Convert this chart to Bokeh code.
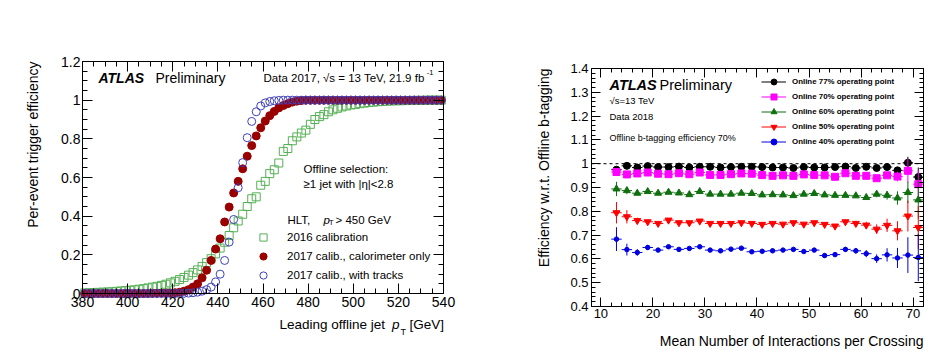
from math import pi
from bokeh.plotting import figure
from bokeh.layouts import row
from bokeh.models import (Range1d, FixedTicker, LinearAxis, CustomJSTickFormatter,
                          Label, Legend, LegendItem)
from bokeh.embed import file_html
from bokeh.resources import INLINE

FONT = "Liberation Sans"

# ---------------- left panel data: per-event trigger efficiency ----------------
pt_bins = list(range(381, 540, 2))          # bin centres [GeV]
eff_2016 = [
    0.003, 0.004, 0.005, 0.006, 0.007, 0.008, 0.009, 0.011, 0.013, 0.015,
    0.017, 0.019, 0.022, 0.025, 0.029, 0.033, 0.037, 0.042, 0.048, 0.055,
    0.063, 0.072, 0.083, 0.095, 0.108, 0.122, 0.140, 0.160, 0.180, 0.205,
    0.235, 0.265, 0.300, 0.340, 0.375, 0.410, 0.450, 0.490, 0.500, 0.560,
    0.580, 0.620, 0.640, 0.675, 0.735, 0.750, 0.790, 0.810, 0.830, 0.845,
    0.875, 0.900, 0.915, 0.925, 0.940, 0.950, 0.958, 0.965, 0.970, 0.975,
    0.978, 0.982, 0.985, 0.988, 0.990, 0.992, 0.993, 0.995, 0.996, 0.997,
    0.997, 0.998, 0.998, 0.999, 0.999, 0.999, 1.000, 1.000, 1.000, 1.000]
eff_2017_calo = [
    0.000, 0.000, 0.000, 0.000, 0.000, 0.000, 0.000, 0.000, 0.000, 0.000,
    0.000, 0.000, 0.000, 0.000, 0.000, 0.001, 0.001, 0.002, 0.002, 0.003,
    0.004, 0.006, 0.012, 0.020, 0.033, 0.050, 0.081, 0.120, 0.171, 0.230,
    0.283, 0.370, 0.447, 0.520, 0.580, 0.645, 0.710, 0.765, 0.815, 0.857,
    0.892, 0.920, 0.942, 0.960, 0.972, 0.982, 0.990, 0.995, 0.998, 1.000,
    1.000, 1.000, 1.000, 1.000, 1.000, 1.000, 1.000, 1.000, 1.000, 1.000,
    1.000, 1.000, 1.000, 1.000, 1.000, 1.000, 1.000, 1.000, 1.000, 1.000,
    1.000, 1.000, 1.000, 1.000, 1.000, 1.000, 1.000, 1.000, 1.000, 1.000]
eff_2017_trk = [
    0.000, 0.000, 0.000, 0.000, 0.000, 0.000, 0.000, 0.000, 0.000, 0.000,
    0.000, 0.000, 0.000, 0.000, 0.000, 0.000, 0.000, 0.000, 0.000, 0.000,
    0.000, 0.000, 0.001, 0.002, 0.004, 0.007, 0.012, 0.020, 0.033, 0.060,
    0.100, 0.171, 0.266, 0.383, 0.547, 0.677, 0.806, 0.890, 0.940, 0.970,
    0.986, 0.993, 0.997, 0.999, 1.000, 1.000, 1.000, 1.000, 1.000, 1.000,
    1.000, 1.000, 1.000, 1.000, 1.000, 1.000, 1.000, 1.000, 1.000, 1.000,
    1.000, 1.000, 1.000, 1.000, 1.000, 1.000, 1.000, 1.000, 1.000, 1.000,
    1.000, 1.000, 1.000, 1.000, 1.000, 1.000, 1.000, 1.000, 1.000, 1.000]
left_labels = ["2016 calibration", "2017 calib., calorimeter only", "2017 calib., with tracks"]
left_xlim = (380, 540)
left_ylim = (0.0, 1.2)
left_xticks = [380, 400, 420, 440, 460, 480, 500, 520, 540]
left_yticks = [0.0, 0.2, 0.4, 0.6, 0.8, 1.0, 1.2]

# ---------------- right panel data: online b-tagging efficiency vs <mu> ----------------
mu_bins = list(range(13, 72, 2))
mu_halfwidth = 1.0
eff77 = [0.975, 0.991, 0.984, 0.990, 0.986, 0.986, 0.988, 0.984, 0.987, 0.987,
         0.984, 0.986, 0.987, 0.987, 0.986, 0.984, 0.984, 0.982, 0.986, 0.984,
         0.984, 0.986, 0.988, 0.982, 0.987, 0.982, 0.986, 0.972, 1.004, 0.944]
eff70 = [0.965, 0.955, 0.959, 0.963, 0.958, 0.956, 0.960, 0.956, 0.963, 0.953,
         0.953, 0.956, 0.959, 0.958, 0.952, 0.949, 0.951, 0.949, 0.955, 0.952,
         0.951, 0.945, 0.960, 0.949, 0.949, 0.939, 0.951, 0.946, 0.970, 0.914]
eff60 = [0.894, 0.887, 0.876, 0.883, 0.876, 0.880, 0.877, 0.870, 0.883, 0.872,
         0.872, 0.872, 0.876, 0.875, 0.869, 0.870, 0.869, 0.866, 0.872, 0.875,
         0.869, 0.867, 0.867, 0.865, 0.858, 0.872, 0.867, 0.856, 0.879, 0.848]
eff50 = [0.794, 0.777, 0.761, 0.756, 0.749, 0.763, 0.752, 0.752, 0.759, 0.749,
         0.749, 0.749, 0.752, 0.749, 0.745, 0.749, 0.746, 0.752, 0.746, 0.752,
         0.745, 0.738, 0.756, 0.749, 0.742, 0.725, 0.741, 0.718, 0.780, 0.732]
eff40 = [0.683, 0.639, 0.627, 0.648, 0.637, 0.651, 0.640, 0.644, 0.651, 0.637,
         0.634, 0.641, 0.645, 0.630, 0.632, 0.634, 0.637, 0.640, 0.631, 0.637,
         0.614, 0.618, 0.640, 0.634, 0.622, 0.601, 0.617, 0.604, 0.616, 0.606]
err77 = [0.010, 0.006, 0.004, 0.003, 0.003, 0.003, 0.003, 0.003, 0.003, 0.003,
         0.003, 0.003, 0.003, 0.003, 0.003, 0.003, 0.003, 0.003, 0.003, 0.003,
         0.003, 0.003, 0.004, 0.004, 0.005, 0.006, 0.008, 0.012, 0.025, 0.040]
err70 = [0.015, 0.008, 0.005, 0.004, 0.004, 0.004, 0.004, 0.004, 0.004, 0.004,
         0.004, 0.004, 0.004, 0.004, 0.004, 0.004, 0.004, 0.004, 0.004, 0.004,
         0.004, 0.005, 0.005, 0.006, 0.007, 0.009, 0.012, 0.020, 0.050, 0.060]
err60 = [0.030, 0.015, 0.008, 0.006, 0.005, 0.005, 0.005, 0.005, 0.005, 0.005,
         0.005, 0.005, 0.005, 0.005, 0.005, 0.005, 0.005, 0.005, 0.005, 0.005,
         0.005, 0.006, 0.006, 0.008, 0.010, 0.013, 0.018, 0.028, 0.045, 0.080]
err50 = [0.045, 0.028, 0.012, 0.008, 0.007, 0.006, 0.006, 0.006, 0.006, 0.006,
         0.006, 0.006, 0.006, 0.006, 0.006, 0.006, 0.006, 0.006, 0.006, 0.006,
         0.007, 0.008, 0.009, 0.011, 0.014, 0.020, 0.028, 0.040, 0.065, 0.090]
err40 = [0.050, 0.025, 0.014, 0.010, 0.008, 0.007, 0.007, 0.007, 0.007, 0.007,
         0.007, 0.007, 0.007, 0.007, 0.007, 0.007, 0.007, 0.007, 0.007, 0.007,
         0.008, 0.009, 0.010, 0.012, 0.015, 0.018, 0.028, 0.042, 0.075, 0.100]
right_labels = ["Online 77% operating point", "Online 70% operating point",
                "Online 60% operating point", "Online 50% operating point",
                "Online 40% operating point"]
right_xlim = (8.2, 72.0)
right_ylim = (0.4, 1.4)
right_xticks = [10, 20, 30, 40, 50, 60, 70]
right_yticks = [0.4, 0.5, 0.6, 0.7, 0.8, 0.9, 1.0, 1.1, 1.2, 1.3, 1.4]
reference_level = 1.0


def canvas_ranges(W, H, fl, fr, ft, fb, xlim, ylim):
    """Extend the data ranges so that the visible box (fl..fr, ft..fb px) maps to xlim/ylim."""
    sx = (xlim[1] - xlim[0]) / (fr - fl)
    sy = (ylim[1] - ylim[0]) / (fb - ft)
    return (Range1d(xlim[0] - fl * sx, xlim[1] + (W - fr) * sx),
            Range1d(ylim[0] - (H - fb) * sy, ylim[1] + ft * sy))


def style_axis(ax, size, standoff, maj, mnr):
    ax.axis_line_color = "black"
    ax.axis_line_width = 1
    ax.major_tick_line_color = "black"
    ax.minor_tick_line_color = "black"
    ax.major_tick_in = maj
    ax.major_tick_out = 0
    ax.minor_tick_in = mnr
    ax.minor_tick_out = 0
    ax.major_label_text_font = FONT
    ax.major_label_text_font_size = size
    ax.major_label_text_color = "black"
    ax.major_label_standoff = standoff


def txt(p, x, y, text, xo, yo, size, style="normal", align="left", angle=0.0):
    p.add_layout(Label(x=x, y=y, x_offset=xo, y_offset=yo, text=text, text_font=FONT,
                       text_font_size=size, text_font_style=style, text_align=align,
                       text_baseline="middle", angle=angle, text_color="black"))


def box_axes(p, xlim, ylim, xt, xm, yt, ym, size, xs, ys, maj, mnr):
    p.grid.visible = False
    p.outline_line_color = None
    p.background_fill_color = "white"
    p.border_fill_color = "white"
    show = CustomJSTickFormatter(code="return String(Math.round(tick*1000)/1000);")
    hide = CustomJSTickFormatter(code="return '';")
    xa = p.xaxis[0]
    ya = p.yaxis[0]
    xa.ticker = FixedTicker(ticks=xt, minor_ticks=xm)
    ya.ticker = FixedTicker(ticks=yt, minor_ticks=ym)
    xa.formatter = show
    ya.formatter = show
    xa.fixed_location = ylim[0]
    ya.fixed_location = xlim[0]
    xa.bounds = xlim
    ya.bounds = ylim
    style_axis(xa, size, xs, maj, mnr)
    style_axis(ya, size, ys, maj, mnr)
    top = LinearAxis(ticker=FixedTicker(ticks=xt, minor_ticks=xm), formatter=hide,
                     fixed_location=ylim[1], bounds=xlim)
    right = LinearAxis(ticker=FixedTicker(ticks=yt, minor_ticks=ym), formatter=hide,
                       fixed_location=xlim[1], bounds=ylim)
    style_axis(top, "8px", 0, maj, mnr)
    style_axis(right, "8px", 0, maj, mnr)
    p.add_layout(top, "above")
    p.add_layout(right, "right")


W1, W2, H = 470, 469, 355

# ======================= left panel =======================
xr1, yr1 = canvas_ranges(W1, H, 82, 443, 61, 293, left_xlim, left_ylim)
p1 = figure(width=W1, height=H, x_range=xr1, y_range=yr1, output_backend="svg",
            toolbar_location=None, min_border=0)
box_axes(p1, left_xlim, left_ylim, left_xticks, list(range(380, 541, 5)),
         left_yticks, [round(0.05 * i, 2) for i in range(25)], "14px", 3, 2, 10, 5)

r16 = p1.scatter(pt_bins, eff_2016, marker="square", size=8, fill_color=None,
                 line_color="#55b055", line_width=1)
rcal = p1.scatter(pt_bins, eff_2017_calo, marker="circle", size=8, fill_color="#990000",
                  line_color="#990000")
rtrk = p1.scatter(pt_bins, eff_2017_trk, marker="circle", size=8, fill_color=None,
                  line_color="#4040bb", line_width=1)

leg1 = Legend(items=[LegendItem(label=left_labels[0], renderers=[r16]),
                     LegendItem(label=left_labels[1], renderers=[rcal]),
                     LegendItem(label=left_labels[2], renderers=[rtrk])],
              location=(254, H - 284), orientation="vertical", glyph_width=18, glyph_height=18,
              label_height=18, spacing=1, padding=0, margin=0, label_standoff=15,
              border_line_color=None, background_fill_alpha=0,
              label_text_font=FONT, label_text_font_size="11.5px", label_text_color="black")
p1.add_layout(leg1)

X0, X1 = left_xlim
Y0, Y1 = left_ylim
txt(p1, X0, Y1, "ATLAS", 16, -16, "14px", style="bold italic")
txt(p1, X0, Y1, "Preliminary", 73, -16, "14px")
txt(p1, X1, Y1, "Data 2017, \u221as = 13 TeV, 21.9 fb", -19, -16, "11.5px", align="right")
txt(p1, X1, Y1, "-1", -10, -11, "7.5px", align="right")
txt(p1, X0, Y1, "Offline selection:", 221, -107, "11.5px")
txt(p1, X0, Y1, "\u22651 jet with |\u03b7|<2.8", 221, -122, "11.5px")
txt(p1, X0, Y1, "HLT,", 205, -158, "11.5px")
txt(p1, X0, Y1, "p", 241, -158, "11.5px", style="italic")
txt(p1, X0, Y1, "T", 246.5, -161, "7.5px")
txt(p1, X0, Y1, "> 450 GeV", 253, -158, "11.5px")
txt(p1, X0, Y0, "Leading offline jet", 197, -31, "13.5px")
txt(p1, X0, Y0, "p", 309.5, -31, "13.5px", style="italic")
txt(p1, X0, Y0, "T", 318, -38, "9px")
txt(p1, X0, Y0, "[GeV]", 327, -31, "13.5px")
txt(p1, X0, Y1, "Per-event trigger efficiency", -50, 0, "14px", align="right", angle=pi / 2)

# ======================= right panel =======================
xr2, yr2 = canvas_ranges(W2, H, 121, 453, 68, 306, right_xlim, right_ylim)
p2 = figure(width=W2, height=H, x_range=xr2, y_range=yr2, output_backend="svg",
            toolbar_location=None, min_border=0)
box_axes(p2, right_xlim, right_ylim, right_xticks, list(range(10, 73, 2)),
         right_yticks, [round(0.4 + 0.02 * i, 2) for i in range(51)], "13px", 2, 3, 9, 4)

p2.line(list(right_xlim), [reference_level, reference_level], line_color="black",
        line_width=1, line_dash="3 3")

series = [
    (eff77, err77, "#000000", "circle", 7),
    (eff70, err70, "#ff00ff", "square", 7),
    (eff60, err60, "#0f6f0f", "triangle", 7),
    (eff50, err50, "#ff0000", "inverted_triangle", 7),
    (eff40, err40, "#0000e0", "circle", 4.5),
]
items = []
for (vals, errs, col, mk, sz), lab in zip(series, right_labels):
    lo = [v - e for v, e in zip(vals, errs)]
    hi = [v + e for v, e in zip(vals, errs)]
    xl = [m - mu_halfwidth for m in mu_bins]
    xh = [m + mu_halfwidth for m in mu_bins]
    hseg = p2.segment(x0=xl, y0=vals, x1=xh, y1=vals, line_color=col, line_width=1)
    p2.segment(x0=mu_bins, y0=lo, x1=mu_bins, y1=hi, line_color=col, line_width=1)
    sc = p2.scatter(mu_bins, vals, marker=mk, size=sz, fill_color=col, line_color=col)
    items.append(LegendItem(label=lab, renderers=[hseg, sc]))

leg2 = Legend(items=items, location=(291, H - 149), orientation="vertical", glyph_width=25,
              glyph_height=15, label_height=15, spacing=0, padding=0, margin=0,
              label_standoff=6, border_line_color=None, background_fill_alpha=0,
              label_text_font=FONT, label_text_font_size="7.9px",
              label_text_font_style="bold", label_text_color="black")
p2.add_layout(leg2)

U0, U1 = right_xlim
V0, V1 = right_ylim
txt(p2, U0, V1, "ATLAS", 18, -16, "14.5px", style="bold italic")
txt(p2, U0, V1, "Preliminary", 68, -16, "14.5px")
txt(p2, U0, V1, "\u221as=13 TeV", 18, -32, "9.5px")
txt(p2, U0, V1, "Data 2018", 18, -48, "9.5px")
txt(p2, U0, V1, "Offline b-tagging efficiency 70%", 18, -69, "9px")
txt(p2, U1, V0, "Mean Number of Interactions per Crossing", 0, -34, "14px", align="right")
txt(p2, U0, V1, "Efficiency w.r.t. Offline b-tagging", -48, 0, "14px", align="right",
    angle=pi / 2)

layout = row(p1, p2)
open("out.html", "w").write(file_html(layout, INLINE))
